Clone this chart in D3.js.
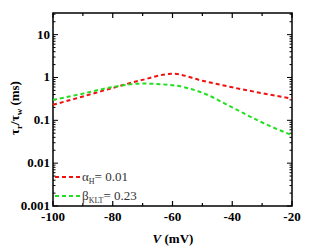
<!DOCTYPE html>
<html><head><meta charset="utf-8">
<script src="https://cdn.jsdelivr.net/npm/d3@7"></script>
<style>body{margin:0;background:#fff}svg{display:block}</style>
</head><body>
<svg id="c" width="314" height="252"></svg>
<script>
const voltage = [-100,-90,-80,-70,-60,-50,-40,-30,-20];
const tauR = [0.23,0.36,0.57,0.88,1.22,0.84,0.59,0.43,0.32];
const tauW = [0.30,0.42,0.60,0.72,0.66,0.44,0.20,0.089,0.045];
const xTicks = [-100,-80,-60,-40,-20];
const yTicks = [0.001,0.01,0.1,1,10];
const yTickLabels = ["0.001","0.01","0.1","1","10"];

const FONT = "Liberation Serif";
const svg = d3.select("#c");
const L=53,R=292,T=13,B=206;
const x = d3.scaleLinear().domain([-100,-20]).range([L,R]);
const y = d3.scaleLog().domain([0.001,32]).range([B,T]);

const g = svg.append("g");
const minorX = d3.range(-100,-19,10);
const minorY = [];
for (let d=-3; d<=1; d++) for (let m=1;m<10;m++){const v=m*Math.pow(10,d); if(v<=32) minorY.push(v);}
minorX.forEach(v=>{
  const len = xTicks.includes(v)?5:3;
  g.append("line").attr("x1",x(v)).attr("x2",x(v)).attr("y1",B).attr("y2",B-len).attr("stroke","#000").attr("stroke-width",1.2);
  g.append("line").attr("x1",x(v)).attr("x2",x(v)).attr("y1",T).attr("y2",T+len).attr("stroke","#000").attr("stroke-width",1.2);
});
minorY.forEach(v=>{
  const len = yTicks.includes(v)?5:2.5;
  g.append("line").attr("x1",L).attr("x2",L+len).attr("y1",y(v)).attr("y2",y(v)).attr("stroke","#000").attr("stroke-width",1);
  g.append("line").attr("x1",R).attr("x2",R-len).attr("y1",y(v)).attr("y2",y(v)).attr("stroke","#000").attr("stroke-width",1);
});
g.append("rect").attr("x",L).attr("y",T).attr("width",R-L).attr("height",B-T).attr("fill","none").attr("stroke","#000").attr("stroke-width",1.5);

xTicks.forEach(v=>{
  g.append("text").attr("x",x(v)).attr("y",B+15).attr("text-anchor","middle")
   .attr("font-family",FONT).attr("font-weight","bold").attr("font-size",13).text(v);
});
yTicks.forEach((v,i)=>{
  g.append("text").attr("x",L-3).attr("y",y(v)+4).attr("text-anchor","end")
   .attr("font-family",FONT).attr("font-weight","bold").attr("font-size",13).text(yTickLabels[i]);
});

const line = d3.line().x((d,i)=>x(voltage[i])).y(d=>y(d)).curve(d3.curveMonotoneX);
g.append("path").datum(tauR).attr("d",line).attr("fill","none").attr("stroke","#f01010").attr("stroke-width",2).attr("stroke-dasharray","4,3");
g.append("path").datum(tauW).attr("d",line).attr("fill","none").attr("stroke","#20e020").attr("stroke-width",2).attr("stroke-dasharray","4,3");

g.append("line").attr("x1",L+2).attr("x2",L+28).attr("y1",177).attr("y2",177).attr("stroke","#f01010").attr("stroke-width",2).attr("stroke-dasharray","4,3");
g.append("line").attr("x1",L+2).attr("x2",L+28).attr("y1",196).attr("y2",196).attr("stroke","#20e020").attr("stroke-width",2).attr("stroke-dasharray","4,3");
const t1 = g.append("text").attr("x",L+29).attr("y",181).attr("font-family",FONT).attr("font-size",13).attr("fill","#333");
t1.append("tspan").text("α");
t1.append("tspan").text("H").attr("font-size",8).attr("dy",3);
t1.append("tspan").text("= 0.01").attr("dy",-3);
const t2 = g.append("text").attr("x",L+29).attr("y",200).attr("font-family",FONT).attr("font-size",13).attr("fill","#333");
t2.append("tspan").text("β");
t2.append("tspan").text("KLT").attr("font-size",8).attr("dy",3);
t2.append("tspan").text("= 0.23").attr("dy",-3);

const xl = g.append("text").attr("x",173).attr("y",243).attr("text-anchor","middle")
  .attr("font-family",FONT).attr("font-weight","bold").attr("font-size",13);
xl.append("tspan").text("V").attr("font-style","italic");
xl.append("tspan").text(" (mV)");
const yl = g.append("text").attr("transform",`translate(19,108) rotate(-90)`).attr("text-anchor","middle")
  .attr("font-family",FONT).attr("font-weight","bold").attr("font-size",13);
yl.append("tspan").text("τ");
yl.append("tspan").text("r").attr("font-size",9).attr("dy",3);
yl.append("tspan").text("/τ").attr("dy",-3);
yl.append("tspan").text("w").attr("font-size",9).attr("dy",3);
yl.append("tspan").text(" (ms)").attr("dy",-3);
</script>
</body></html>
